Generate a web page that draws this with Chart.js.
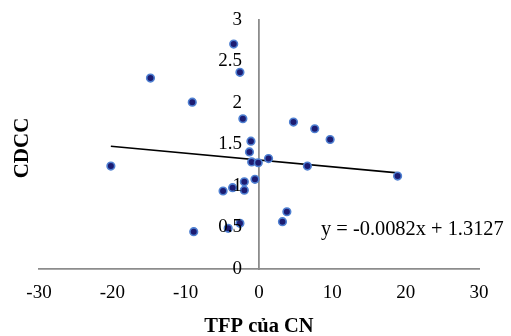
<!DOCTYPE html>
<html>
<head>
<meta charset="utf-8">
<script src="https://cdn.jsdelivr.net/npm/chart.js@4"></script>
<style>
    body { margin: 0; background: #fff; }
</style>
</head>
<body>
<canvas id="myChart" width="511" height="336"></canvas>
<script>
"use strict";

// #region Data
const tfpValues = [-3.45, -2.6, -14.8, -9.1, -2.2, 4.7, 7.6, 9.7, -1.1, -1.3, -1.0, -0.1, 1.3, -20.2, 6.6, 18.9, -0.55, -2.0, -3.6, -2.0, -4.9, 3.8, 3.2, -2.6, -4.2, -8.9];
const cdccValues = [2.71, 2.37, 2.3, 2.01, 1.81, 1.77, 1.69, 1.56, 1.54, 1.41, 1.29, 1.28, 1.33, 1.24, 1.24, 1.12, 1.08, 1.05, 0.98, 0.95, 0.94, 0.69, 0.57, 0.55, 0.49, 0.45];
const xTicks = [-30, -20, -10, 0, 10, 20, 30];
const yTicks = [0, 0.5, 1, 1.5, 2, 2.5, 3];
const slope = -0.0082;
const intercept = 1.3127;
const equationText = "y = -0.0082x + 1.3127";
// #endregion

const points = tfpValues.map((x, i) => ({ x: x, y: cdccValues[i] }));
const xMin = Math.min(...tfpValues);
const xMax = Math.max(...tfpValues);
const trendLine = [xMin, xMax].map((x) => ({ x: x, y: slope * x + intercept }));

const serif = "'Liberation Serif', 'Times New Roman', serif";

/* The y axis crosses at x = 0, Chart.js ignores tick padding there,
   so its labels, the rotated title and the equation are drawn here */
const extraText = {
    id: "extraText",
    afterDraw(chart) {
        const ctx = chart.ctx;
        const xScale = chart.scales.x;
        const yScale = chart.scales.y;
        const axisX = xScale.getPixelForValue(0);

        ctx.save();
        ctx.fillStyle = "#000";
        ctx.font = `19px ${serif}`;
        ctx.textAlign = "right";
        ctx.textBaseline = "middle";
        yScale.ticks.forEach((t) => {
            ctx.fillText(String(t.value), axisX - 17, yScale.getPixelForValue(t.value));
        });
        ctx.restore();

        ctx.save();
        ctx.fillStyle = "#000";
        ctx.font = `bold 21px ${serif}`;
        ctx.textAlign = "center";
        ctx.textBaseline = "middle";
        ctx.translate(23, 148);
        ctx.rotate(-Math.PI / 2);
        ctx.fillText("CDCC", 0, 0);
        ctx.restore();

        ctx.save();
        ctx.fillStyle = "#000";
        ctx.font = `20.4px ${serif}`;
        ctx.textAlign = "left";
        ctx.textBaseline = "middle";
        ctx.fillText(equationText, 321, 230);
        ctx.restore();
    },
};

const config = {
    type: "scatter",
    data: {
        datasets: [
            {
                data: points,
                backgroundColor: "#1c1c72",
                borderColor: "#4f80d2",
                borderWidth: 1.6,
                pointRadius: 3.8,
            },
            {
                type: "line",
                data: trendLine,
                borderColor: "#000",
                borderWidth: 1.6,
                pointRadius: 0,
                fill: false,
            },
        ],
    },
    options: {
        responsive: false,
        animation: false,
        layout: { padding: { left: 39, right: 32, top: 20, bottom: 0 } },
        plugins: {
            legend: { display: false },
            tooltip: { enabled: false },
        },
        scales: {
            x: {
                type: "linear",
                min: -30,
                max: 30,
                afterBuildTicks: (axis) => {
                    axis.ticks = xTicks.map((v) => ({ value: v }));
                },
                afterFit: (axis) => {
                    axis.height = 67;
                },
                grid: { drawOnChartArea: false, drawTicks: false },
                border: { color: "#8c8c8c", width: 1.8 },
                ticks: {
                    padding: 13,
                    color: "#000",
                    font: { family: serif, size: 19 },
                },
                title: {
                    display: true,
                    text: "TFP của CN",
                    color: "#000",
                    font: { family: serif, size: 20.5, weight: "bold" },
                    padding: { top: 0, bottom: -3 },
                },
            },
            y: {
                type: "linear",
                min: 0,
                max: 3,
                position: { x: 0 },
                afterBuildTicks: (axis) => {
                    axis.ticks = yTicks.map((v) => ({ value: v }));
                },
                grid: { drawOnChartArea: false, drawTicks: false },
                border: { color: "#8c8c8c", width: 1.8 },
                ticks: { display: false },
            },
        },
    },
    plugins: [extraText],
};

const myChart = new Chart(document.getElementById("myChart"), config);
</script>
</body>
</html>
